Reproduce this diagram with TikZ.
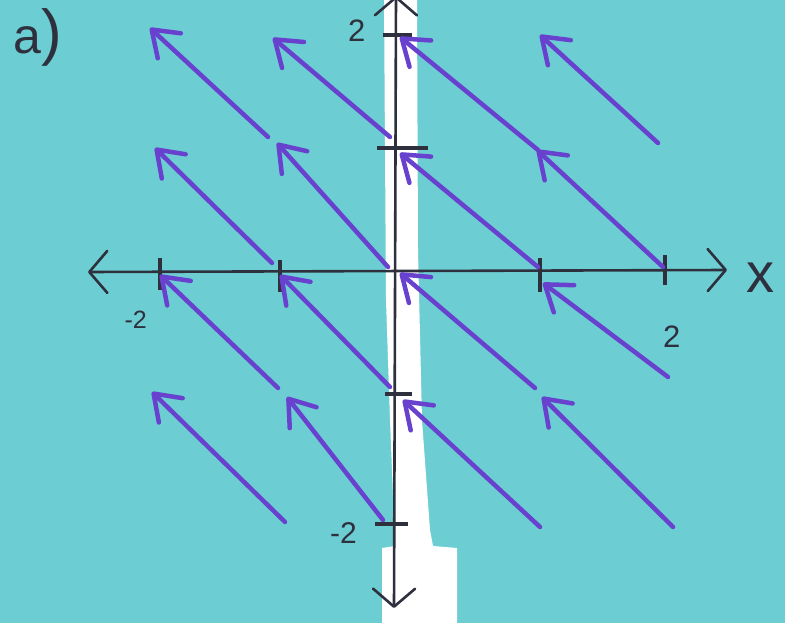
\documentclass[tikz,border=0pt]{standalone}
\usepackage{fontspec}
\setmainfont{Liberation Sans}
\usetikzlibrary{arrows.meta}
\definecolor{bgcyan}{RGB}{108,206,210}
\definecolor{pen}{RGB}{104,66,206}
\definecolor{ink}{RGB}{46,48,62}
\begin{document}
\begin{tikzpicture}[x=1pt,y=-1pt,
  field/.style={pen, line width=4.5pt, line cap=round, -{Straight Barb[length=24pt,width=34pt,round]}},
  axisline/.style={ink, line width=2.6pt, line cap=round, {Straight Barb[length=18pt,width=42pt,round]}-{Straight Barb[length=18pt,width=42pt,round]}},
  tickmark/.style={ink, line width=3.5pt},
  lab/.style={ink, inner sep=0pt}]
\useasboundingbox (0,0) rectangle (785,623);
\fill[bgcyan] (0,0) rectangle (785,623);
% white paper strip
\fill[white] (384,-1) -- (417,-1) -- (418,250) -- (422,420) -- (430,530) -- (433,546)
  -- (457,548) -- (457,624) -- (382,624) -- (382,548) -- (395,546) -- (390,420) -- (386,300) -- cycle;
% axes
\coordinate (xl) at (88,272);
\coordinate (xr) at (727,270);
\coordinate (yt) at (396,-4);
\coordinate (yb) at (394,608);
\draw[axisline] (xl) -- (xr);
\draw[axisline] (yt) -- (yb);
% ticks
\draw[tickmark] (160,258) -- (160,290);
\draw[tickmark] (280,260) -- (280,292);
\draw[tickmark] (540,258) -- (540,292);
\draw[tickmark] (665,255) -- (665,285);
\draw[tickmark] (383,35) -- (412,35);
\draw[tickmark] (377,148) -- (428,148);
\draw[tickmark] (385,394) -- (412,394);
\draw[tickmark] (375,524) -- (408,524);
% field arrows: tails t, heads h
\foreach \n/\tx/\ty/\hx/\hy in {
  1/268/137/150/28, 2/390/137/273/38, 3/538/150/400/37, 4/658/143/540/35,
  5/272/263/155/148, 6/388/267/277/143, 7/538/267/400/153, 8/663/267/537/150,
  9/278/388/160/275, 10/390/387/280/275, 11/535/388/400/273, 12/668/377/543/283,
  13/285/522/152/392, 14/383/520/287/397, 15/540/527/403/400, 16/673/527/542/397}{
  \coordinate (t\n) at (\tx,\ty);
  \coordinate (h\n) at (\hx,\hy);
  \draw[field] (t\n) -- (h\n);
}
% labels
\node[lab, anchor=base west, font=\fontsize{50}{50}\selectfont] (part) at (13,54) {a{\fontsize{62}{62}\selectfont)}};
\node[lab, anchor=base west, font=\fontsize{56}{56}\selectfont] (xlab) at (746,292) {x};
\node[lab, anchor=base west, font=\fontsize{31}{31}\selectfont] (ytop) at (348,42) {2};
\node[lab, anchor=base east, font=\fontsize{30}{30}\selectfont] (ybot) at (357,543) {-2};
\node[lab, anchor=base east, font=\fontsize{25}{25}\selectfont] (xleft) at (147,328) {-2};
\node[lab, anchor=base west, font=\fontsize{31}{31}\selectfont] (xright) at (663,347) {2};
\end{tikzpicture}
\end{document}
